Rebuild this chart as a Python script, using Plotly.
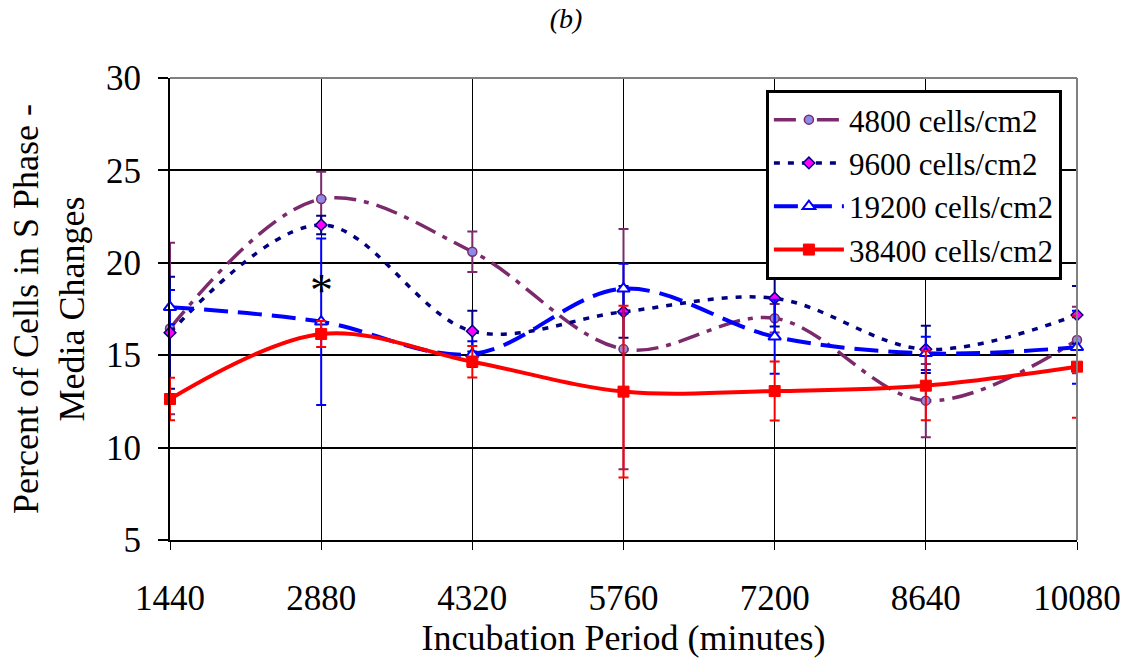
import plotly.graph_objects as go

x_vals = [1440, 2880, 4320, 5760, 7200, 8640, 10080]

s4800 = [16.45, 23.45, 20.6, 15.33, 17.0, 12.54, 15.82]
e4800 = [4.64, 1.48, 1.1, 6.5, 0.77, 1.98, 1.8]

s9600 = [16.22, 22.05, 16.3, 17.35, 18.08, 15.32, 17.18]
e9600 = [3.03, 0.5, 1.1, 1.4, 1.53, 1.28, 1.56]

s19200 = [17.6, 16.81, 15.06, 18.6, 16.0, 15.1, 15.43]
e19200 = [0.93, 4.5, 0.7, 1.35, 2.0, 0.9, 1.97]

s38400 = [12.63, 16.15, 14.65, 13.03, 13.06, 13.35, 14.38]
e38400 = [1.15, 0.7, 0.85, 4.65, 1.6, 1.87, 2.76]

names = ["4800 cells/cm2", "9600 cells/cm2", "19200 cells/cm2", "38400 cells/cm2"]

FONT = "Liberation Serif"

fig = go.Figure()

def add(y, err, name, color, width, dash, marker):
    fig.add_trace(go.Scatter(
        x=x_vals, y=y, name=name, mode="lines+markers",
        line=dict(color=color, width=width, dash=dash, shape="spline", smoothing=1),
        marker=marker,
        error_y=dict(type="data", array=err, visible=True, color=color, thickness=2, width=5),
        cliponaxis=False,
    ))

add(s4800, e4800, names[0], "#7B2A6B", 3.5, "22px,8px,5px,8px",
    dict(symbol="circle", size=9, color="#8C8CE8", line=dict(color="#7B2A6B", width=1.5)))
add(s9600, e9600, names[1], "#000080", 3.5, "6px,8px",
    dict(symbol="diamond", size=9, color="#FF00FF", line=dict(color="#000080", width=1.5)))
add(s19200, e19200, names[2], "#0000FF", 4, "24px,10px",
    dict(symbol="triangle-up", size=11, color="white", line=dict(color="#0000FF", width=2)))
add(s38400, e38400, names[3], "#FF0000", 4, "solid",
    dict(symbol="square", size=11, color="#FF0000", line=dict(color="#FF0000", width=1)))

fig.add_annotation(x=2880, y=18.5, text="*", showarrow=False,
                   font=dict(family=FONT, size=46, color="black"))

fig.update_layout(
    width=1132, height=658,
    paper_bgcolor="white", plot_bgcolor="white",
    margin=dict(l=170, r=55, t=78, b=118),
    font=dict(family=FONT, color="black"),
    title=dict(text="<i>(b)</i>", x=0.5, xanchor="center", y=0.972, yanchor="middle",
               font=dict(family=FONT, size=28, color="black")),
    showlegend=True,
    legend=dict(x=0.657, y=0.974, xanchor="left", yanchor="top",
                bgcolor="white", bordercolor="black", borderwidth=3,
                font=dict(family=FONT, size=31, color="black"),
                itemwidth=70, tracegroupgap=0),
    shapes=[
        dict(type="line", xref="paper", yref="paper", x0=0, x1=1, y0=1, y1=1,
             line=dict(color="#808080", width=2)),
        dict(type="line", xref="paper", yref="paper", x0=1, x1=1, y0=0, y1=1,
             line=dict(color="#808080", width=2)),
    ],
)

fig.update_xaxes(
    range=[1440, 10080], tickvals=x_vals, ticktext=[str(v) for v in x_vals],
    showgrid=True, gridcolor="black", gridwidth=1,
    showline=True, linecolor="black", linewidth=2,
    ticks="outside", ticklen=8, tickcolor="black", tickwidth=1,
    ticklabelstandoff=18,
    tickfont=dict(family=FONT, size=35, color="black"),
    title=dict(text="Incubation Period (minutes)", font=dict(family=FONT, size=36, color="black"), standoff=0),
    zeroline=False,
)
fig.update_yaxes(
    range=[5, 30], tickvals=[5, 10, 15, 20, 25, 30],
    showgrid=True, gridcolor="black", gridwidth=2,
    showline=True, linecolor="black", linewidth=2,
    ticks="outside", ticklen=10, tickcolor="black", tickwidth=2,
    ticklabelstandoff=10,
    tickfont=dict(family=FONT, size=35, color="black"),
    title=dict(text="Percent of Cells in S Phase -<br>Media Changes",
               font=dict(family=FONT, size=36, color="black"), standoff=10),
    zeroline=False,
)

fig.write_html("out.html")
